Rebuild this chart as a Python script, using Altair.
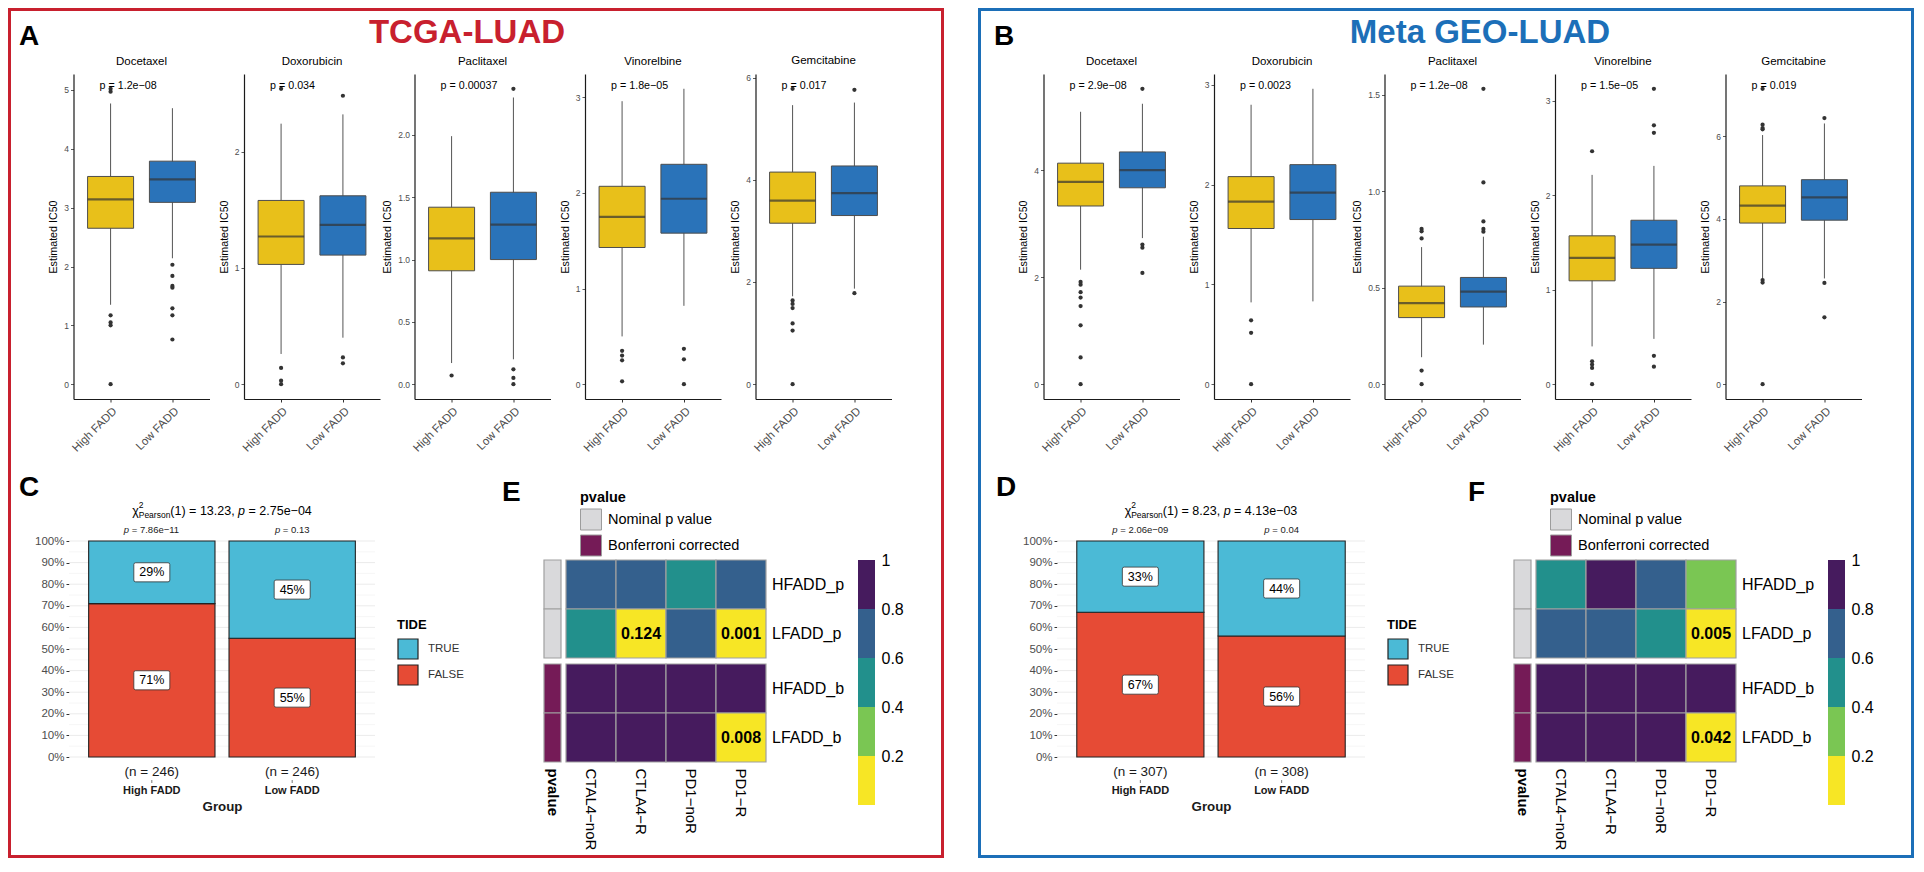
import altair as alt
import pandas as pd

FONT = "Liberation Sans"

# ------------------------------------------------------------------ data
drugs = ["Docetaxel", "Doxorubicin", "Paclitaxel", "Vinorelbine", "Gemcitabine"]
groups = ["High FADD", "Low FADD"]
tick_formats = ["d", "d", ".1f", "d", "d"]

tcga_title = "TCGA-LUAD"
tcga_pvals = ["p = 1.2e−08", "p = 0.034", "p = 0.00037", "p = 1.8e−05", "p = 0.017"]
# [lower whisker, Q1, median, Q3, upper whisker]
tcga_high_box = [[1.35, 2.65, 3.14, 3.53, 4.77], [0.26, 1.03, 1.27, 1.58, 2.24],
                 [0.17, 0.91, 1.17, 1.42, 1.99], [0.50, 1.43, 1.75, 2.07, 2.96],
                 [1.72, 3.15, 3.59, 4.15, 5.46]]
tcga_low_box = [[2.14, 3.09, 3.48, 3.79, 4.69], [0.40, 1.11, 1.37, 1.62, 2.32],
                [0.20, 1.00, 1.28, 1.54, 2.30], [0.82, 1.58, 1.94, 2.30, 3.09],
                [1.87, 3.30, 3.74, 4.27, 5.51]]
tcga_high_out = [[5.02, 4.97, 1.17, 1.05, 1.00, 0.00], [2.54, 0.14, 0.03, 0.00], [0.07],
                 [0.35, 0.30, 0.25, 0.03], [5.78, 1.64, 1.57, 1.49, 1.19, 1.05, 0.00]]
tcga_low_out = [[2.03, 1.84, 1.67, 1.64, 1.29, 1.17, 0.76], [2.48, 0.23, 0.18],
                [2.37, 0.12, 0.05, 0.00], [0.37, 0.26, 0.00], [5.76, 1.78]]
tcga_ticks = [[0, 1, 2, 3, 4, 5], [0, 1, 2], [0, 0.5, 1, 1.5, 2], [0, 1, 2, 3], [0, 2, 4, 6]]

geo_title = "Meta GEO-LUAD"
geo_pvals = ["p = 2.9e−08", "p = 0.0023", "p = 1.2e−08", "p = 1.5e−05", "p = 0.019"]
geo_high_box = [[2.14, 3.33, 3.78, 4.13, 5.09], [0.82, 1.56, 1.83, 2.08, 2.80],
                [0.14, 0.345, 0.42, 0.508, 0.71], [0.40, 1.094, 1.336, 1.57, 2.215],
                [2.55, 3.90, 4.32, 4.80, 6.03]]
geo_low_box = [[2.73, 3.67, 4.00, 4.34, 5.24], [0.83, 1.65, 1.92, 2.20, 2.96],
               [0.205, 0.40, 0.48, 0.553, 0.764], [0.48, 1.226, 1.478, 1.735, 2.31],
               [2.56, 3.97, 4.52, 4.95, 6.31]]
geo_high_out = [[1.91, 1.86, 1.72, 1.62, 1.46, 1.10, 0.50, 0.00], [0.64, 0.515, 0.00],
                [0.804, 0.792, 0.755, 0.071, 0.00], [2.465, 0.242, 0.208, 0.173, 0.00],
                [7.15, 6.28, 6.20, 6.17, 2.52, 2.46, 0.00]]
geo_low_out = [[5.52, 2.61, 2.55, 2.08], [], [1.53, 1.045, 0.843, 0.804, 0.79],
               [3.126, 2.74, 2.66, 0.30, 0.185], [6.44, 2.45, 1.62]]
geo_ticks = [[0, 2, 4], [0, 1, 2, 3], [0, 0.5, 1, 1.5], [0, 1, 2, 3], [0, 2, 4, 6]]

tide_levels = ["TRUE", "FALSE"]
tcga_tide_true = [29, 45]
tcga_tide_false = [71, 55]
tcga_n = [246, 246]
tcga_group_p = ["7.86e−11", "0.13"]
tcga_chi = ["13.23", "2.75e−04"]
geo_tide_true = [33, 44]
geo_tide_false = [67, 56]
geo_n = [307, 308]
geo_group_p = ["2.06e−09", "0.04"]
geo_chi = ["8.23", "4.13e−03"]

heat_rows = ["HFADD_p", "LFADD_p", "HFADD_b", "LFADD_b"]
heat_row_type = ["Nominal p value", "Nominal p value", "Bonferroni corrected", "Bonferroni corrected"]
heat_cols = ["CTAL4−noR", "CTLA4−R", "PD1−noR", "PD1−R"]
tcga_heat = [[0.70, 0.72, 0.50, 0.70], [0.48, 0.124, 0.68, 0.001], [1, 1, 1, 1], [1, 1, 1, 0.008]]
geo_heat = [[0.52, 0.95, 0.70, 0.30], [0.70, 0.68, 0.50, 0.005], [1, 1, 1, 1], [1, 1, 1, 0.042]]
cbar_breaks = [0.2, 0.4, 0.6, 0.8]
cbar_ticks = [0.2, 0.4, 0.6, 0.8, 1]

# ------------------------------------------------------------------ styles
RED = "#C8202E"
BLUE = "#1C6FB8"
YELLOW = "#E8C01A"
BOXBLUE = "#2A73B9"
TRUE_C = "#4BBAD6"
FALSE_C = "#E64B35"
VIRIDIS = ["#F7E625", "#7AC653", "#22908C", "#34608D", "#461B5E"]
ANN_GREY = "#D9D9DB"
ANN_PURPLE = "#751B57"
CELL_STROKE = "#A0A0A0"

FW = 936          # frame width
FT = 3            # frame thickness
HEAD_H = 46
ROW2_TOP, ROW2_BOT = 46, 452
BOX_TOP, BOX_H, BOX_W, BOX_X0, BOX_SP = 66, 325, 136, 65, 34.5
ROW3_TOP, ROW3_BOT = 452, 850
MOS_TOP, MOS_H = 533, 216
ANN_X, ANN_W = 536, 17
HEAT_X, HEAT_W = 558, 200
CB_X, CB_W = 850, 17
ROW_PX, GAP_PX, HEAT_OFF_PX = 49, 6, 19
GAP_U = GAP_PX / ROW_PX
OFF_U = HEAT_OFF_PX / ROW_PX
HEAT_H = round((4 + GAP_U + OFF_U) * ROW_PX)
CB_H = HEAT_OFF_PX + 5 * ROW_PX

DUMMY = pd.DataFrame({"a": [0]})

AW = {" ": .278, "(": .333, ")": .333, "=": .584, ",": .278, ".": .278, "e": .556,
      "−": .584, "p": .556, "P": .667, "a": .556, "r": .333, "s": .5, "o": .556,
      "n": .556, "χ": .52}


def tw(s, size):
    return sum(AW.get(ch, 0.556) for ch in s) * size


def rect(color, x, x2, y, y2):
    return alt.Chart(DUMMY).mark_rect(color=color).encode(
        x=alt.value(x), x2=alt.value(x2), y=alt.value(y), y2=alt.value(y2))


def label(text, x, y, size, weight="normal", style="normal", color="black",
          align="left", baseline="middle"):
    return alt.Chart(DUMMY).mark_text(
        text=text, fontSize=size, fontWeight=weight, fontStyle=style, color=color,
        align=align, baseline=baseline).encode(x=alt.value(x), y=alt.value(y))


def spacer(w, layers=()):
    base = alt.Chart(DUMMY).mark_rect(opacity=0).encode(
        x=alt.value(0), x2=alt.value(1), y=alt.value(0), y2=alt.value(1))
    return alt.layer(base, *layers).properties(width=w, height=1)


def frame_sides(color, ytop, ybot, bottom=False):
    parts = [rect(color, 0, FT, ytop, ybot), rect(color, FW - FT, FW, ytop, ybot)]
    if bottom:
        parts.append(rect(color, 0, FW, ybot - FT, ybot))
    return parts


# ------------------------------------------------------------------ header
def header(title, title_cx, letter, letter_x, color):
    return alt.layer(
        rect(color, 0, FW, 0, FT),
        rect(color, 0, FT, 0, HEAD_H),
        rect(color, FW - FT, FW, 0, HEAD_H),
        label(title, title_cx, 35, 33, weight="bold", color=color, align="center",
              baseline="alphabetic"),
        label(letter, letter_x, 37, 28, weight="bold", baseline="alphabetic"),
    ).properties(width=FW, height=HEAD_H)


# ------------------------------------------------------------------ boxplots
def box_panel(drug, hs, ls, ho, lo, ticks, fmt, ptxt):
    stats = pd.DataFrame({
        "group": groups,
        "lower": [hs[0], ls[0]], "q1": [hs[1], ls[1]], "median": [hs[2], ls[2]],
        "q3": [hs[3], ls[3]], "upper": [hs[4], ls[4]],
    })
    outs = pd.DataFrame({"group": ["High FADD"] * len(ho) + ["Low FADD"] * len(lo),
                         "v": list(ho) + list(lo)})
    allv = list(hs) + list(ls) + list(ho) + list(lo)
    vmin, vmax = min(allv), max(allv)
    pad = 0.05 * (vmax - vmin)
    ysc = alt.Scale(domain=[vmin - pad, vmax + pad], nice=False, zero=False)
    yax = alt.Axis(values=ticks, format=fmt, labelFontSize=8.5, labelColor="#4D4D4D",
                   tickColor="#333333", tickSize=3, tickWidth=0.8, domainColor="#1A1A1A",
                   domainWidth=1.2, grid=False, title="Estimated IC50", titleFontSize=10.7,
                   titleFontWeight="normal", titleColor="black", titlePadding=5,
                   labelPadding=2)
    xax = alt.Axis(labelAngle=-45, labelAlign="right", labelBaseline="top",
                   labelFontSize=11.5, labelColor="#4D4D4D", tickColor="#333333",
                   tickSize=3, domainColor="#1A1A1A", domainWidth=1.2, title=None,
                   labelPadding=3)
    xenc = alt.X("group:N", scale=alt.Scale(type="point", domain=groups, padding=0.6),
                 axis=xax)

    def Y(f):
        return alt.Y(f, scale=ysc, axis=yax)

    base = alt.Chart(stats)
    whisk = base.mark_rule(color="#555555", strokeWidth=1).encode(
        x=xenc, y=Y("lower:Q"), y2="upper:Q")
    box = base.mark_bar(width=46, stroke="#4D4D4D", strokeWidth=1).encode(
        x=xenc, y=Y("q1:Q"), y2="q3:Q",
        fill=alt.Fill("group:N", scale=alt.Scale(domain=groups, range=[YELLOW, BOXBLUE]),
                      legend=None))
    med = base.mark_tick(size=46, thickness=2.2, color="#333333").encode(
        x=xenc, y=Y("median:Q"))
    pts = alt.Chart(outs).mark_circle(size=18, color="#333333", opacity=1).encode(
        x=xenc, y=Y("v:Q"))
    ptext = alt.Chart(pd.DataFrame({"group": ["High FADD"], "t": [ptxt]})).mark_text(
        align="left", baseline="middle", dx=-11, fontSize=10.7, color="black").encode(
        x=xenc, y=alt.value(12), text="t:N")
    return alt.layer(whisk, box, med, pts, ptext).properties(
        width=BOX_W, height=BOX_H,
        title=alt.TitleParams(drug, fontSize=11.5, fontWeight="normal", offset=7,
                              color="black"))


def box_row(hb, lb, ho, lo, ticks, pvals, color):
    ytop = ROW2_TOP - BOX_TOP
    ybot = ROW2_BOT - BOX_TOP
    charts = [spacer(BOX_X0 - BOX_SP, frame_sides(color, ytop, ybot))]
    for i, d in enumerate(drugs):
        charts.append(box_panel(d, hb[i], lb[i], ho[i], lo[i], ticks[i], tick_formats[i],
                                pvals[i]))
    return alt.hconcat(*charts, spacing=BOX_SP, bounds="flush")


# ------------------------------------------------------------------ mosaic
BOX_PATH = ("M-0.9,-0.53 L0.9,-0.53 Q1,-0.53 1,-0.43 L1,0.43 Q1,0.53 0.9,0.53 "
            "L-0.9,0.53 Q-1,0.53 -1,0.43 L-1,-0.43 Q-1,-0.53 -0.9,-0.53 Z")


def chi_layers(stat, pv, cx, cy):
    M, S = 12.5, 8.5
    t1 = "(1) = " + stat + ","
    t3 = "= " + pv
    w_chi = tw("χ", M)
    w_sub = tw("Pearson", S)
    w1 = tw(t1 + " ", M)
    w_p = tw("p", M)
    w_sp = tw(" ", M)
    w3 = tw(t3, M)
    x = cx - (w_chi + w_sub + w1 + w_p + w_sp + w3) / 2
    parts = [label("χ", x, cy, M)]
    x += w_chi
    parts.append(label("2", x, cy - 6, S))
    parts.append(label("Pearson", x, cy + 4, S))
    x += w_sub
    parts.append(label(t1, x, cy, M))
    x += w1
    parts.append(label("p", x, cy, M, style="italic"))
    x += w_p + w_sp
    parts.append(label(t3, x, cy, M))
    return parts


def group_p_layers(gp, xenc):
    S = 9.5
    parts = []
    for g, pv in zip(groups, gp):
        rest = "= " + pv
        total = tw("p " + rest, S)
        d = pd.DataFrame({"group": [g], "p": ["p"], "r": [rest]})
        parts.append(alt.Chart(d).mark_text(
            fontSize=S, fontStyle="italic", color="#1A1A1A", align="left",
            dx=-total / 2).encode(x=xenc, y=alt.value(-11), text="p:N"))
        parts.append(alt.Chart(d).mark_text(
            fontSize=S, color="#1A1A1A", align="left",
            dx=-total / 2 + tw("p ", S)).encode(x=xenc, y=alt.value(-11), text="r:N"))
    return parts


def mosaic_unit(tt, tf, ns, gp, chi, mw, letter, letter_x, legend_x):
    recs = []
    for i, g in enumerate(groups):
        f = tf[i] / 100.0
        recs.append({"group": g, "tide": "FALSE", "lo": 0.0, "hi": f, "lab": f"{tf[i]}%"})
        recs.append({"group": g, "tide": "TRUE", "lo": f, "hi": 1.0, "lab": f"{tt[i]}%"})
    df = pd.DataFrame(recs)
    df["mid"] = (df["lo"] + df["hi"]) / 2
    gdf = pd.DataFrame({"group": groups})
    major = pd.DataFrame({"g": [i / 10 for i in range(11)]})
    minor = pd.DataFrame({"g": [i / 10 + 0.05 for i in range(10)]})

    ysc = alt.Scale(domain=[0, 1], nice=False, zero=False)
    yax = alt.Axis(values=[i / 10 for i in range(11)], format="%", labelFontSize=11.5,
                   labelColor="#4D4D4D", tickColor="#333333", tickSize=3, domain=False,
                   grid=False, title=None, labelPadding=2)
    lexpr = (f"datum.value == '{groups[0]}' ? '(n = {ns[0]})' : '(n = {ns[1]})'")
    xax = alt.Axis(labelExpr=lexpr, labelFontSize=13.5, labelColor="#1A1A1A", ticks=False,
                   domain=False, labelPadding=7, labelAngle=0, title="Group",
                   titleFontSize=13.3, titleFontWeight="bold", titleColor="#1A1A1A",
                   titlePadding=22)
    xenc = alt.X("group:N", scale=alt.Scale(domain=groups, paddingInner=0.1,
                                            paddingOuter=0.14), axis=xax)

    def Y(f):
        return alt.Y(f, scale=ysc, axis=yax)

    gmin = alt.Chart(minor).mark_rule(color="#F4F4F4", strokeWidth=0.8).encode(y=Y("g:Q"))
    gmaj = alt.Chart(major).mark_rule(color="#EBEBEB", strokeWidth=1).encode(y=Y("g:Q"))
    bars = alt.Chart(df).mark_bar(stroke="#222222", strokeWidth=1.1).encode(
        x=xenc, y=Y("lo:Q"), y2="hi:Q",
        fill=alt.Fill("tide:N", scale=alt.Scale(domain=tide_levels, range=[TRUE_C, FALSE_C]),
                      legend=alt.Legend(title="TIDE", orient="none", legendX=legend_x,
                                        legendY=78, symbolType="square", symbolSize=400,
                                        symbolStrokeColor="#222222", symbolStrokeWidth=1.2,
                                        symbolOpacity=1, titleFontSize=13,
                                        titleFontWeight="bold", titleColor="black",
                                        labelFontSize=11.5, labelColor="#333333",
                                        rowPadding=0, titlePadding=6, labelOffset=9)))
    boxes = alt.Chart(df).mark_point(shape=BOX_PATH, size=1296, filled=True, fill="white",
                                     stroke="#333333", strokeWidth=0.8, opacity=1).encode(
        x=xenc, y=Y("mid:Q"))
    texts = alt.Chart(df).mark_text(fontSize=12.5, color="black").encode(
        x=xenc, y=Y("mid:Q"), text="lab:N")
    gtick = alt.Chart(gdf).mark_rule(color="#555555", strokeWidth=0.8).encode(
        x=xenc, y=alt.value(MOS_H + 23), y2=alt.value(MOS_H + 26))
    gname = alt.Chart(gdf).mark_text(fontSize=11, fontWeight="bold", color="#1A1A1A").encode(
        x=xenc, y=alt.value(MOS_H + 34), text="group:N")

    layers = [gmin, gmaj, bars, boxes, texts, gtick, gname,
              label(letter, letter_x, -45, 28, weight="bold", baseline="alphabetic")]
    layers += group_p_layers(gp, xenc)
    layers += chi_layers(chi[0], chi[1], mw / 2, -30)
    return alt.layer(*layers).properties(width=mw, height=MOS_H)


# ------------------------------------------------------------------ heatmap
def heat_frames(vals):
    recs = []
    for i, r in enumerate(heat_rows):
        block = 0 if r.endswith("_p") else 1
        y0 = i + block * GAP_U
        for j, c in enumerate(heat_cols):
            recs.append({"row": r, "col": c, "v": vals[i][j], "y0": y0, "y1": y0 + 1,
                         "ym": y0 + 0.5})
    cells = pd.DataFrame(recs)
    rows = cells.drop_duplicates("row")[["row", "y0", "y1", "ym"]].copy()
    rows["ptype"] = heat_row_type
    rows["lab"] = "pvalue"
    return cells, rows


HEAT_Y = alt.Scale(domain=[-OFF_U, 4 + GAP_U], reverse=True, nice=False, zero=False)
THR = alt.Scale(type="threshold", domain=cbar_breaks, range=VIRIDIS)


def annot_unit(rows, letter, letter_x):
    ann = alt.Chart(rows).mark_rect(stroke=CELL_STROKE, strokeWidth=1.2).encode(
        x=alt.X("lab:N", scale=alt.Scale(domain=["pvalue"], paddingInner=0, paddingOuter=0),
                axis=alt.Axis(labelAngle=90, labelFontWeight="bold", labelFontSize=15,
                              labelColor="black", domain=False, ticks=False, labelPadding=6,
                              title=None)),
        y=alt.Y("y0:Q", scale=HEAT_Y, axis=None), y2="y1:Q",
        fill=alt.Fill("ptype:N",
                      scale=alt.Scale(domain=["Nominal p value", "Bonferroni corrected"],
                                      range=[ANN_GREY, ANN_PURPLE]),
                      legend=alt.Legend(title="pvalue", orient="none", legendX=36,
                                        legendY=-50, symbolType="square", symbolSize=441,
                                        symbolStrokeColor="#9C9C9C", symbolStrokeWidth=1,
                                        symbolOpacity=1, titleFontSize=14.5,
                                        titleFontWeight="bold", titleColor="black",
                                        labelFontSize=14.5, labelColor="black",
                                        rowPadding=0, titlePadding=3, labelOffset=6)))
    return alt.layer(
        ann, label(letter, letter_x, -40, 28, weight="bold", baseline="alphabetic")
    ).properties(width=ANN_W, height=HEAT_H)


def heat_unit(cells, rows):
    xenc = alt.X("col:N", scale=alt.Scale(domain=heat_cols, paddingInner=0, paddingOuter=0),
                 axis=alt.Axis(labelAngle=90, labelFontSize=15, labelColor="black",
                               domain=False, ticks=False, labelPadding=6, title=None))
    tiles = alt.Chart(cells).mark_rect(stroke=CELL_STROKE, strokeWidth=1.2).encode(
        x=xenc, y=alt.Y("y0:Q", scale=HEAT_Y, axis=None), y2="y1:Q",
        fill=alt.Fill("v:Q", scale=THR, legend=None))
    nums = alt.Chart(cells).transform_filter("datum.v < 0.2").mark_text(
        fontSize=16, fontWeight="bold", color="black").encode(
        x=xenc, y=alt.Y("ym:Q", scale=HEAT_Y, axis=None), text=alt.Text("v:Q", format=".3f"))
    rlab = alt.Chart(rows).mark_text(align="left", fontSize=16, color="black").encode(
        x=alt.value(HEAT_W + 6), y=alt.Y("ym:Q", scale=HEAT_Y, axis=None), text="row:N")
    return alt.layer(tiles, nums, rlab).properties(width=HEAT_W, height=HEAT_H)


def colorbar_unit():
    lo = [0.0] + cbar_breaks
    hi = cbar_breaks + [1.0]
    cb = pd.DataFrame({"lo": lo, "hi": hi})
    cb["mid"] = (cb["lo"] + cb["hi"]) / 2
    ysc = alt.Scale(domain=[0, 1 + HEAT_OFF_PX / (5 * ROW_PX)], nice=False, zero=False)
    return alt.Chart(cb).mark_rect().encode(
        x=alt.value(0), x2=alt.value(CB_W),
        y=alt.Y("lo:Q", scale=ysc,
                axis=alt.Axis(orient="right", values=cbar_ticks, format="~g", domain=False,
                              ticks=False, grid=False, labelFontSize=16, labelColor="black",
                              labelPadding=6, title=None)),
        y2="hi:Q",
        fill=alt.Fill("mid:Q", scale=THR, legend=None),
    ).properties(width=CB_W, height=CB_H)


def bottom_row(tt, tf, ns, gp, chi, heat_vals, x0, mw, l1, l1x, l2, l2x, leg_x, color):
    cells, rows = heat_frames(heat_vals)
    ytop = ROW3_TOP - MOS_TOP
    ybot = ROW3_BOT - MOS_TOP
    lead = spacer(x0, frame_sides(color, ytop, ybot, bottom=True))
    mos = mosaic_unit(tt, tf, ns, gp, chi, mw, l1, l1x, leg_x)
    return alt.hconcat(
        lead, mos, spacer(ANN_X - (x0 + mw)), annot_unit(rows, l2, l2x),
        spacer(HEAT_X - ANN_X - ANN_W), heat_unit(cells, rows),
        spacer(CB_X - HEAT_X - HEAT_W), colorbar_unit(),
        spacing=0, bounds="flush",
    ).resolve_scale(fill="independent")


# ------------------------------------------------------------------ assemble
left = alt.vconcat(
    header(tcga_title, 459, "A", 11, RED),
    box_row(tcga_high_box, tcga_low_box, tcga_high_out, tcga_low_out, tcga_ticks, tcga_pvals, RED),
    bottom_row(tcga_tide_true, tcga_tide_false, tcga_n, tcga_group_p, tcga_chi, tcga_heat,
               61, 306, "C", -50, "E", -42, 328, RED),
    spacing=0,
).resolve_scale(fill="independent")

right = alt.vconcat(
    header(geo_title, 502, "B", 16, BLUE),
    box_row(geo_high_box, geo_low_box, geo_high_out, geo_low_out, geo_ticks, geo_pvals, BLUE),
    bottom_row(geo_tide_true, geo_tide_false, geo_n, geo_group_p, geo_chi, geo_heat,
               79, 308, "D", -61, "F", -46, 330, BLUE),
    spacing=0,
).resolve_scale(fill="independent")

chart = alt.hconcat(left, right, spacing=34).resolve_scale(fill="independent").properties(
    padding=0, background="white"
).configure(font=FONT).configure_view(strokeWidth=0)

chart.save("out.html", embed_options={"renderer": "svg", "actions": False})
